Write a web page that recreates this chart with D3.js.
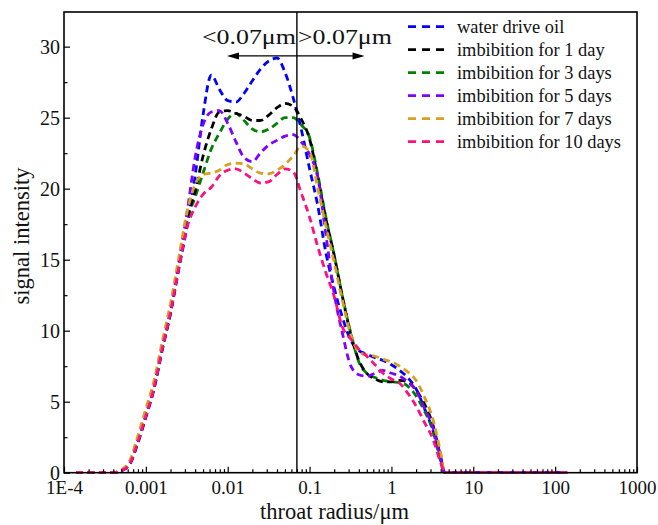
<!DOCTYPE html>
<html>
<head>
<meta charset="utf-8">
<script src="https://cdn.jsdelivr.net/npm/d3@7"></script>
<style>
  html, body { margin: 0; padding: 0; background: #fff; }
  svg { display: block; font-family: "Times New Roman", "Liberation Serif", serif; }
</style>
</head>
<body>
<svg id="chart" width="658" height="525"></svg>
<script>
// ---- data (radius in µm, signal intensity) ----
const radius = [0.00014, 0.00025, 0.0004, 0.0005, 0.00063, 0.00079, 0.001, 0.00126, 0.00158, 0.002,
  0.0025, 0.0032, 0.004, 0.005, 0.0063, 0.0079, 0.01, 0.0126, 0.0158, 0.02,
  0.025, 0.032, 0.04, 0.05, 0.063, 0.079, 0.1, 0.126, 0.158, 0.2,
  0.25, 0.32, 0.4, 0.5, 0.63, 0.79, 1, 1.26, 1.58, 2,
  2.5, 3.2, 4, 4.5, 6.3, 16, 40, 100, 140];

const waterDriveOil = [0,0,0,0.15,0.55,2.0,3.9,5.9,8.6,11.2,
  14.2,17.4,20.9,25.2,28.0,27.0,26.2,26.1,26.7,27.6,
  28.4,29.0,29.2,28.2,26.4,24.2,21.4,18.8,15.5,13.0,
  11.0,9.3,8.6,8.35,8.1,7.9,7.6,7.2,6.7,5.9,
  4.6,3.0,0.9,0,0,0,0,0,0];
const imbibition1 = [0,0,0,0.15,0.6,2.1,4.0,6.0,8.7,11.3,
  14.4,17.9,19.8,22.3,24.2,25.4,25.5,25.3,25.1,24.8,
  24.8,25.2,25.7,26.0,25.8,24.9,23.5,20.8,17.9,15.3,
  12.5,9.7,7.9,7.0,6.6,6.4,6.4,6.5,6.4,5.8,
  4.9,3.4,1.1,0,0,0,0,0,0];
const imbibition3 = [0,0,0,0.15,0.6,2.1,4.0,6.0,8.7,11.3,
  14.4,17.8,19.4,21.1,22.8,23.9,24.9,25.3,24.8,24.2,
  24.0,24.2,24.6,25.0,25.0,24.5,23.6,21.0,18.0,15.3,
  12.5,9.8,7.8,7.0,6.7,6.5,6.4,6.35,6.1,5.4,
  4.4,3.0,0.8,0,0,0,0,0,0];
const imbibition5 = [0,0,0,0.15,0.6,2.2,4.1,6.1,8.8,11.5,
  14.7,18.4,22.2,24.5,25.4,25.5,24.6,23.3,22.2,21.9,
  22.5,23.1,23.4,23.7,23.8,23.3,22.4,20.8,16.8,12.6,
  9.9,7.5,6.9,6.8,7.0,7.2,7.0,6.8,6.4,5.8,
  4.6,3.2,1.0,0,0,0,0,0,0];
const imbibition7 = [0,0,0,0.2,0.8,2.5,4.5,6.5,9.2,11.9,
  15.0,18.4,20.3,21.0,21.1,21.3,21.7,21.8,21.75,21.4,
  21.1,21.05,21.3,21.7,22.3,23.0,22.6,20.0,17.4,14.8,
  12.2,9.7,8.5,8.3,8.2,8.0,7.8,7.5,7.1,6.5,
  5.4,3.8,1.4,0,0,0,0,0,0];
const imbibition10 = [0,0,0,0.15,0.6,2.1,4.0,6.0,8.7,11.3,
  14.3,17.3,18.7,19.6,20.1,20.9,21.3,21.4,21.1,20.7,
  20.4,20.5,21.0,21.4,21.2,19.7,18.0,15.9,14.1,12.4,
  10.3,9.4,8.7,8.2,7.6,7.0,6.6,6.3,5.6,4.7,
  3.6,2.4,0.7,0,0,0,0,0,0];

const seriesNames = ["water drive oil", "imbibition for 1 day", "imbibition for 3 days",
  "imbibition for 5 days", "imbibition for 7 days", "imbibition for 10 days"];
const seriesValues = [waterDriveOil, imbibition1, imbibition3, imbibition5, imbibition7, imbibition10];
const seriesColors = ["#0000ff", "#000000", "#008000", "#8000ff", "#d9a020", "#ff0f80"];

const xTickValues = [0.0001, 0.001, 0.01, 0.1, 1, 10, 100, 1000];
const xTickLabels = ["1E-4", "0.001", "0.01", "0.1", "1", "10", "100", "1000"];
const yTickValues = [0, 5, 10, 15, 20, 25, 30];
const boundary = 0.07;

// ---- layout ----
const L = 64, R = 637, T = 12, B = 472.7;
const FONT = '"Times New Roman", "Liberation Serif", serif';
const svg = d3.select("#chart");

const x = d3.scaleLog().domain([0.0001, 1000]).range([L, R]);
const y = d3.scaleLinear().domain([0, 32.44]).range([B, T]);

// minor ticks
const xMinor = [];
for (let e = -4; e < 3; e++) for (let m = 2; m <= 9; m++) xMinor.push(m * Math.pow(10, e));
const yMinor = [2.5, 7.5, 12.5, 17.5, 22.5, 27.5];

// curves
const line = d3.line()
  .x((d, i) => x(radius[i]))
  .y(d => y(d))
  .curve(d3.curveMonotoneX);

const plot = svg.append("g");
const drawOrder = [0, 2, 1, 3, 4, 5];
drawOrder.forEach(k => {
  plot.append("path")
    .attr("d", line(seriesValues[k]))
    .attr("fill", "none")
    .attr("stroke", seriesColors[k])
    .attr("stroke-width", 2.8)
    .attr("stroke-dasharray", "7,4.5");
});

// vertical boundary line
svg.append("line")
  .attr("x1", x(boundary)).attr("x2", x(boundary))
  .attr("y1", T).attr("y2", B)
  .attr("stroke", "#000").attr("stroke-width", 1.4);

// axes
const xAxis = d3.axisBottom(x).tickValues(xTickValues)
  .tickFormat((d, i) => xTickLabels[i]).tickSizeInner(-6).tickSizeOuter(0).tickPadding(7.5);
const gx = svg.append("g").attr("transform", `translate(0,${B})`).call(xAxis);
const gxm = svg.append("g").attr("transform", `translate(0,${B})`)
  .call(d3.axisBottom(x).tickValues(xMinor).tickFormat("").tickSizeInner(-3.5).tickSizeOuter(0));

const yAxis = d3.axisLeft(y).tickValues(yTickValues).tickSizeInner(-6).tickSizeOuter(0).tickPadding(4);
const gy = svg.append("g").attr("transform", `translate(${L},0)`).call(yAxis);
const gym = svg.append("g").attr("transform", `translate(${L},0)`)
  .call(d3.axisLeft(y).tickValues(yMinor).tickFormat("").tickSizeInner(-3.5).tickSizeOuter(0));

[gx, gxm, gy, gym].forEach(g => {
  g.select(".domain").remove();
  g.selectAll(".tick line").attr("stroke", "#000").attr("stroke-width", 1.2);
  g.selectAll(".tick text").attr("fill", "#111").attr("font-family", FONT);
});
gx.selectAll(".tick text").attr("font-size", 19);
gy.selectAll(".tick text").attr("font-size", 20);

// frame
svg.append("rect")
  .attr("x", L).attr("y", T).attr("width", R - L).attr("height", B - T)
  .attr("fill", "none").attr("stroke", "#000").attr("stroke-width", 1.6);

// axis titles
svg.append("text")
  .attr("transform", `translate(29,236) rotate(-90)`)
  .attr("text-anchor", "middle")
  .attr("font-size", 22.5).attr("fill", "#111")
  .text("signal intensity");
svg.append("text")
  .attr("x", 334.5).attr("y", 519)
  .attr("text-anchor", "middle")
  .attr("font-size", 22.5).attr("fill", "#111")
  .text("throat radius/μm");

// annotation arrows
const arrowY = y(29.35);
const leftEnd = x(0.0098), rightEnd = x(0.47), mid = x(boundary);
svg.append("line").attr("x1", mid).attr("x2", leftEnd + 8).attr("y1", arrowY).attr("y2", arrowY)
  .attr("stroke", "#000").attr("stroke-width", 1.2);
svg.append("line").attr("x1", mid).attr("x2", rightEnd - 8).attr("y1", arrowY).attr("y2", arrowY)
  .attr("stroke", "#000").attr("stroke-width", 1.2);
svg.append("path")
  .attr("d", `M${leftEnd},${arrowY} L${leftEnd + 12},${arrowY - 3.5} L${leftEnd + 12},${arrowY + 3.5} Z`)
  .attr("fill", "#000");
svg.append("path")
  .attr("d", `M${rightEnd},${arrowY} L${rightEnd - 12},${arrowY - 3.5} L${rightEnd - 12},${arrowY + 3.5} Z`)
  .attr("fill", "#000");
svg.append("text").attr("x", mid - 95).attr("y", 44)
  .attr("font-size", 22).attr("fill", "#111")
  .attr("textLength", 94).attr("lengthAdjust", "spacingAndGlyphs")
  .text("<0.07μm");
svg.append("text").attr("x", mid + 1).attr("y", 44)
  .attr("font-size", 22).attr("fill", "#111")
  .attr("textLength", 94).attr("lengthAdjust", "spacingAndGlyphs")
  .text(">0.07μm");

// legend
const legend = svg.append("g");
const rowY0 = 26.7, rowStep = 23;
seriesNames.forEach((name, k) => {
  const cy = rowY0 + k * rowStep;
  legend.append("line")
    .attr("x1", 408).attr("x2", 446).attr("y1", cy).attr("y2", cy)
    .attr("stroke", seriesColors[k]).attr("stroke-width", 2.8)
    .attr("stroke-dasharray", "8,6");
  legend.append("text")
    .attr("x", 457).attr("y", cy + 6)
    .attr("font-size", 18.4).attr("fill", "#111")
    .text(name);
});
</script>
</body>
</html>
